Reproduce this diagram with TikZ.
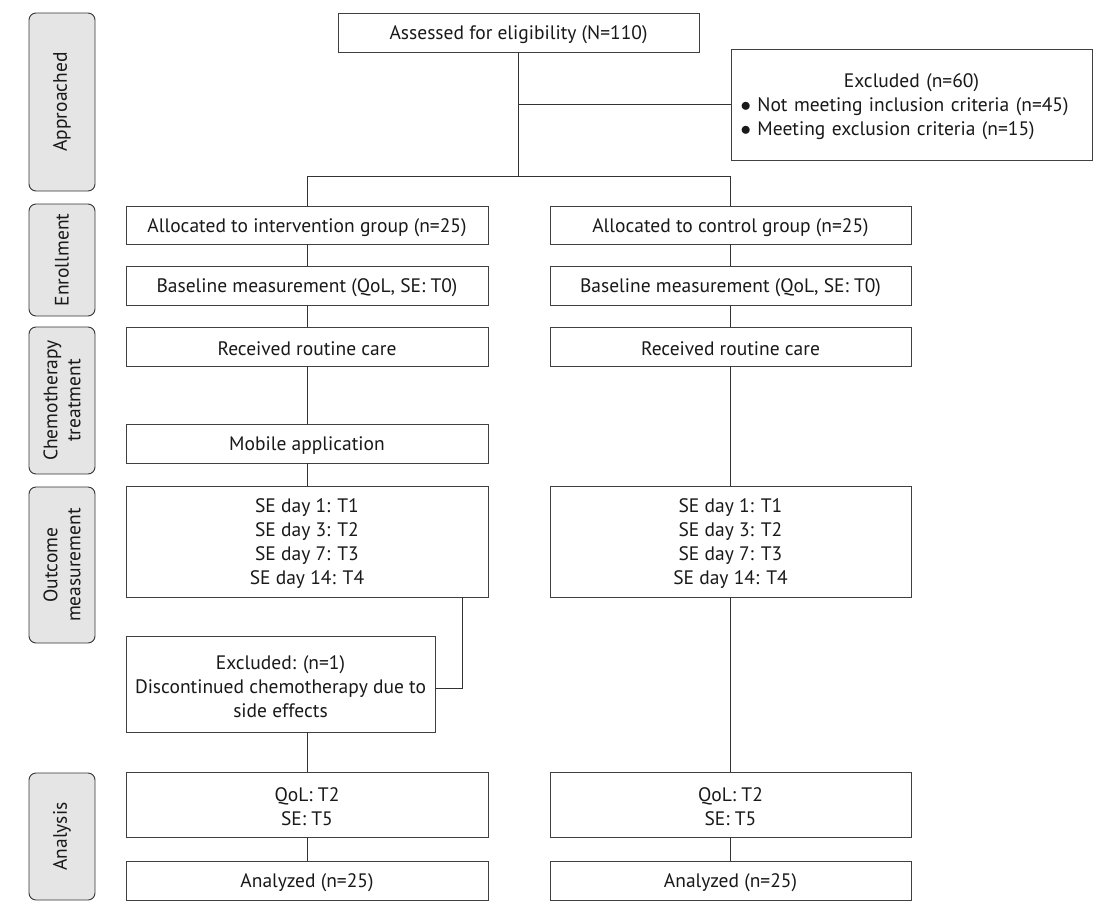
\documentclass[tikz,border=0pt]{standalone}
\usepackage{fontspec}
\setmainfont{PT Sans}
\begin{document}
\begin{tikzpicture}[x=1pt,y=-1pt,
  box/.style={draw=black!75,line width=0.9pt,fill=white,inner sep=0pt},
  boxtext/.style={text=black!90,font=\fontsize{19.5}{24}\selectfont,align=center,inner sep=0pt,yshift=-2.5pt},
  side/.style={draw=black!80,line width=0.9pt,fill=black!10,rounded corners=7pt},
  sidetext/.style={rotate=90,text=black!90,font=\fontsize{19.5}{23}\selectfont,align=center},
  ln/.style={draw=black!80,line width=0.9pt}]
\useasboundingbox (0,0) rectangle (1098,911);
% side labels
\newcommand{\sidebox}[4]{\draw[side] (29,#2) rectangle (95,#3); \node[sidetext] (#1) at (62,{(#2+#3)/2}) {#4};}
\sidebox{sa}{13}{191}{Approached}
\sidebox{se}{204}{316}{Enrollment}
\sidebox{sc}{327}{474}{Chemotherapy\\treatment}
\sidebox{so}{487}{643}{Outcome\\measurement}
\sidebox{sn}{773}{900}{Analysis}
% boxes
\newcommand{\bx}[6]{\node[box,minimum width={#4-#2},minimum height={#5-#3}] (#1) at ({(#2+#4)/2},{(#3+#5)/2}) {}; \node[boxtext] (#1t) at (#1.center) {#6};}
\bx{ass}{338}{13}{699}{52}{Assessed for eligibility (N=110)}
\node[box,minimum width=361,minimum height=111] (exc) at (911.5,104.5) {};
\node[boxtext,text width=342,align=left] (exct) at (exc.center) {\null\hfill Excluded (n=60)\hfill\null\\ $\bullet$ Not meeting inclusion criteria (n=45)\\ $\bullet$ Meeting exclusion criteria (n=15)};
\bx{la}{126}{206}{488}{244}{Allocated to intervention group (n=25)}
\bx{ra}{550}{206}{911}{244}{Allocated to control group (n=25)}
\bx{lb}{126}{266}{488}{305}{Baseline measurement (QoL, SE: T0)}
\bx{rb}{550}{266}{911}{305}{Baseline measurement (QoL, SE: T0)}
\bx{lr}{126}{327}{488}{366}{Received routine care}
\bx{rr}{550}{327}{911}{366}{Received routine care}
\bx{lm}{126}{424}{488}{463}{Mobile application}
\bx{ls}{126}{486}{488}{597}{SE day 1: T1\\SE day 3: T2\\SE day 7: T3\\SE day 14: T4}
\bx{rs}{550}{486}{911}{597}{SE day 1: T1\\SE day 3: T2\\SE day 7: T3\\SE day 14: T4}
\bx{lx}{126}{636}{435}{732}{Excluded: (n=1)\\Discontinued chemotherapy due to\\side effects}
\bx{lq}{126}{772}{488}{837}{QoL: T2\\SE: T5}
\bx{rq}{550}{772}{911}{837}{QoL: T2\\SE: T5}
\bx{ln}{126}{861}{488}{900}{Analyzed (n=25)}
\bx{rn}{550}{861}{911}{900}{Analyzed (n=25)}
% connectors
\coordinate (j1) at (518,176);
\coordinate (j2) at (518,104);
\draw[ln] (ass.south -| j1) -- (j1);
\draw[ln] (j2) -- (exc.west |- j2);
\draw[ln] (la.north) -- (la.north |- j1) -- (ra.north |- j1) -- (ra.north);
\draw[ln] (la.south) -- (lb.north);
\draw[ln] (ra.south) -- (rb.north);
\draw[ln] (lb.south) -- (lr.north);
\draw[ln] (rb.south) -- (rr.north);
\draw[ln] (lr.south) -- (lm.north);
\draw[ln] (lm.south) -- (ls.north);
\draw[ln] (rr.south) -- (rs.north);
\coordinate (k) at (462,688);
\draw[ln] (ls.south -| k) -- (k) -- (lx.east |- k);
\draw[ln] (lx.south -| lq.north) -- (lq.north);
\draw[ln] (rs.south) -- (rq.north);
\draw[ln] (lq.south) -- (ln.north);
\draw[ln] (rq.south) -- (rn.north);
\end{tikzpicture}
\end{document}
